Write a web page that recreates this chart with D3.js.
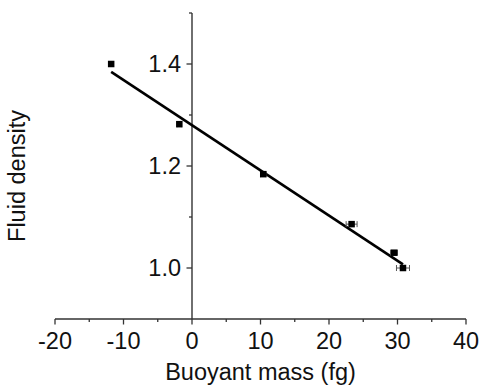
<!DOCTYPE html>
<html>
<head>
<meta charset="utf-8">
<script src="https://cdn.jsdelivr.net/npm/d3@7/dist/d3.min.js"></script>
<style>
  html, body { margin: 0; padding: 0; background: #fff; }
  svg { display: block; }
  text { font-family: "Liberation Sans", Arial, sans-serif; fill: #111; }
</style>
</head>
<body>
<svg id="chart" width="482" height="388"></svg>
<script>
// Measured points: buoyant mass (fg) vs. fluid density
const buoyantMass = [-11.8, -1.85, 10.4, 23.3, 29.5, 30.8];
const fluidDensity = [1.40, 1.282, 1.184, 1.086, 1.030, 1.000];
const massError = [0.3, 0.3, 0.4, 0.8, 0.5, 0.95];

// Linear fit: density = intercept + slope * mass
const fitIntercept = 1.280;
const fitSlope = -0.00886;
const fitRange = [-11.8, 30.8];

const xTicksMajor = [-20, -10, 0, 10, 20, 30, 40];
const xTicksMinor = [-15, -5, 5, 15, 25, 35];
const yTicksMajor = [1.0, 1.2, 1.4];
const yTicksMinor = [1.1, 1.3, 1.5];

const svg = d3.select("#chart");
const x = d3.scaleLinear().domain([-20, 40]).range([55, 466]);
const y = d3.scaleLinear().domain([0.9, 1.5]).range([319, 13]);

const fontSize = 23.5;
const axisColor = "#333";

// X axis along the bottom
const xAxisY = y(0.9);
const gx = svg.append("g").attr("transform", `translate(0,${xAxisY})`);
gx.append("line").attr("x1", x(-20)).attr("x2", x(40))
  .attr("stroke", axisColor).attr("stroke-width", 1.4);
gx.selectAll("line.maj").data(xTicksMajor).join("line").attr("class", "maj")
  .attr("x1", d => x(d)).attr("x2", d => x(d)).attr("y1", 0).attr("y2", 5.5)
  .attr("stroke", axisColor).attr("stroke-width", 1.3);
gx.selectAll("line.min").data(xTicksMinor).join("line").attr("class", "min")
  .attr("x1", d => x(d)).attr("x2", d => x(d)).attr("y1", 0).attr("y2", 3)
  .attr("stroke", axisColor).attr("stroke-width", 1.3);
gx.selectAll("text").data(xTicksMajor).join("text")
  .attr("x", d => x(d)).attr("y", 30).attr("text-anchor", "middle")
  .attr("font-size", fontSize).text(d => d3.format("d")(d).replace("−", "-"));

// Y axis crossing at mass = 0
const yAxisX = x(0);
const gy = svg.append("g").attr("transform", `translate(${yAxisX},0)`);
gy.append("line").attr("y1", y(0.9)).attr("y2", y(1.5))
  .attr("stroke", axisColor).attr("stroke-width", 1.4);
gy.selectAll("line.maj").data(yTicksMajor).join("line").attr("class", "maj")
  .attr("y1", d => y(d)).attr("y2", d => y(d)).attr("x1", 0).attr("x2", -5.5)
  .attr("stroke", axisColor).attr("stroke-width", 1.3);
gy.selectAll("line.min").data(yTicksMinor).join("line").attr("class", "min")
  .attr("y1", d => y(d)).attr("y2", d => y(d)).attr("x1", 0).attr("x2", -3)
  .attr("stroke", axisColor).attr("stroke-width", 1.3);
gy.selectAll("text").data(yTicksMajor).join("text")
  .attr("x", -11).attr("y", d => y(d)).attr("dy", "0.36em")
  .attr("text-anchor", "end").attr("font-size", fontSize)
  .text(d => d3.format(".1f")(d));

// Axis titles
svg.append("text").attr("x", (x(-20) + x(40)) / 2).attr("y", 380)
  .attr("text-anchor", "middle").attr("font-size", fontSize)
  .text("Buoyant mass (fg)");
svg.append("text")
  .attr("transform", `translate(25,176) rotate(-90)`)
  .attr("text-anchor", "middle").attr("font-size", fontSize)
  .text("Fluid density");

// Fit line
const fitLine = d3.line().x(d => x(d)).y(d => y(fitIntercept + fitSlope * d));
svg.append("path").datum(fitRange).attr("d", fitLine)
  .attr("fill", "none").attr("stroke", "#000").attr("stroke-width", 2.6);

// Horizontal error bars
const pts = buoyantMass.map((m, i) => ({ m, d: fluidDensity[i], e: massError[i] }));
const eb = svg.append("g").attr("stroke", "#555").attr("stroke-width", 1);
eb.selectAll("line.bar").data(pts).join("line").attr("class", "bar")
  .attr("x1", d => x(d.m - d.e)).attr("x2", d => x(d.m + d.e))
  .attr("y1", d => y(d.d)).attr("y2", d => y(d.d));
eb.selectAll("line.capL").data(pts).join("line").attr("class", "capL")
  .attr("x1", d => x(d.m - d.e)).attr("x2", d => x(d.m - d.e))
  .attr("y1", d => y(d.d) - 3).attr("y2", d => y(d.d) + 3);
eb.selectAll("line.capR").data(pts).join("line").attr("class", "capR")
  .attr("x1", d => x(d.m + d.e)).attr("x2", d => x(d.m + d.e))
  .attr("y1", d => y(d.d) - 3).attr("y2", d => y(d.d) + 3);

// Data markers
const s = 6.5;
svg.append("g").selectAll("rect").data(pts).join("rect")
  .attr("x", d => x(d.m) - s / 2).attr("y", d => y(d.d) - s / 2)
  .attr("width", s).attr("height", s).attr("fill", "#000");
</script>
</body>
</html>
